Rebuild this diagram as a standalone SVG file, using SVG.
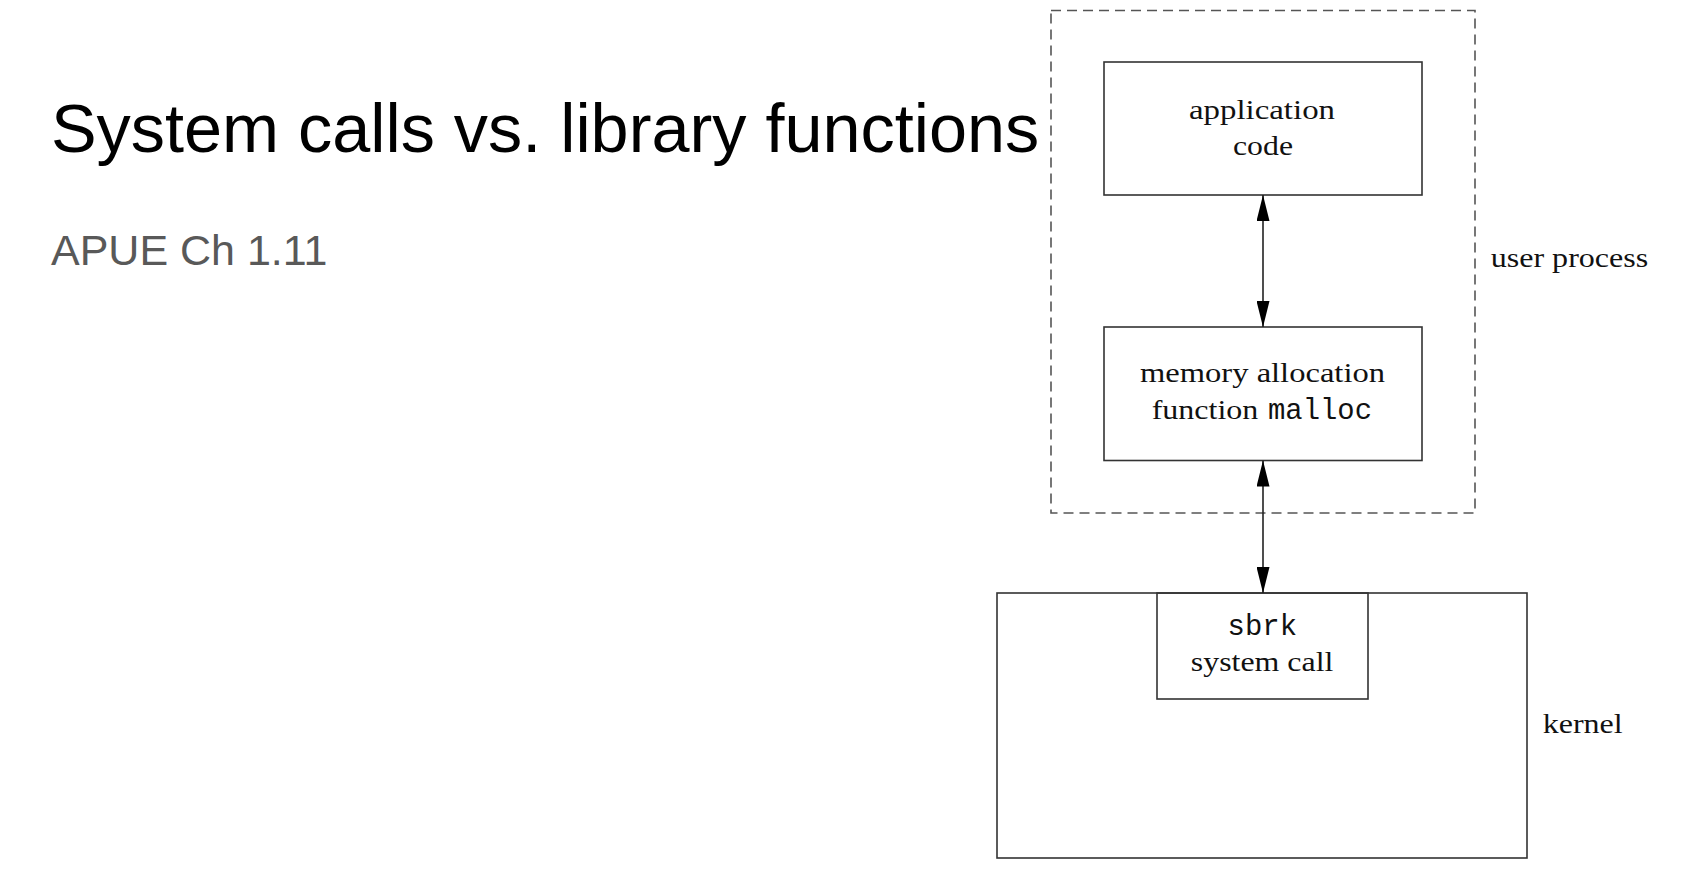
<svg xmlns="http://www.w3.org/2000/svg" width="1696" height="892" viewBox="0 0 1696 892">
  <style>
    .box { fill: none; stroke: #333; stroke-width: 1.6; }
    .dash { fill: none; stroke: #555; stroke-width: 1.6; stroke-dasharray: 10 6; }
    .serif { font-family: "Liberation Serif", "Times New Roman", serif; font-size: 28px; fill: #111; }
    .mono { font-family: "Liberation Mono", "Courier New", monospace; font-size: 29px; fill: #111; }
    .conn { stroke: #222; stroke-width: 1.6; fill: none; }
    .title { font-family: "Liberation Sans", Arial, sans-serif; font-size: 68.4px; fill: #000; }
    .sub { font-family: "Liberation Sans", Arial, sans-serif; font-size: 43px; fill: #595959; }
  </style>
  <defs>
    <marker id="arrow" viewBox="0 0 26 13" refX="26" refY="6.5" markerWidth="26" markerHeight="13" markerUnits="userSpaceOnUse" orient="auto-start-reverse">
      <path d="M0,0 L26,6.5 L0,13 z" fill="#000"/>
    </marker>
  </defs>
  <rect width="1696" height="892" fill="#fff"/>

  <g id="title">
    <text class="title" x="51" y="152">System calls vs. library functions</text>
    <text class="sub" x="51" y="265">APUE Ch 1.11</text>
  </g>

  <g id="user-process">
    <rect class="dash" x="1051" y="10.5" width="424" height="502.5"/>
    <text class="serif" x="1490.7" y="266.7" textLength="157.6" lengthAdjust="spacingAndGlyphs">user process</text>
  </g>

  <g id="kernel">
    <rect class="box" x="997" y="593" width="530" height="265"/>
    <text class="serif" x="1542.7" y="733" textLength="80" lengthAdjust="spacingAndGlyphs">kernel</text>
  </g>

  <g id="application-code">
    <rect class="box" x="1104" y="62" width="318" height="133"/>
    <text class="serif" x="1189" y="118.5" textLength="146" lengthAdjust="spacingAndGlyphs">application</text>
    <text class="serif" x="1233" y="154.5" textLength="60" lengthAdjust="spacingAndGlyphs">code</text>
  </g>

  <g id="malloc">
    <rect class="box" x="1104" y="327" width="318" height="133.5"/>
    <text class="serif" x="1140" y="382" textLength="245" lengthAdjust="spacingAndGlyphs">memory allocation</text>
    <text class="serif" x="1151.7" y="419" textLength="106.7" lengthAdjust="spacingAndGlyphs">function</text>
    <text class="mono" x="1268" y="419" textLength="104" lengthAdjust="spacingAndGlyphs">malloc</text>
  </g>

  <g id="sbrk">
    <rect class="box" x="1157" y="593" width="211" height="106"/>
    <text class="mono" x="1227.6" y="635" textLength="69.4" lengthAdjust="spacingAndGlyphs">sbrk</text>
    <text class="serif" x="1190.8" y="671" textLength="142.6" lengthAdjust="spacingAndGlyphs">system call</text>
  </g>

  <g id="connectors">
    <line class="conn" x1="1263" y1="195" x2="1263" y2="327" marker-start="url(#arrow)" marker-end="url(#arrow)"/>
    <line class="conn" x1="1263" y1="460.5" x2="1263" y2="593" marker-start="url(#arrow)" marker-end="url(#arrow)"/>
  </g>
</svg>
